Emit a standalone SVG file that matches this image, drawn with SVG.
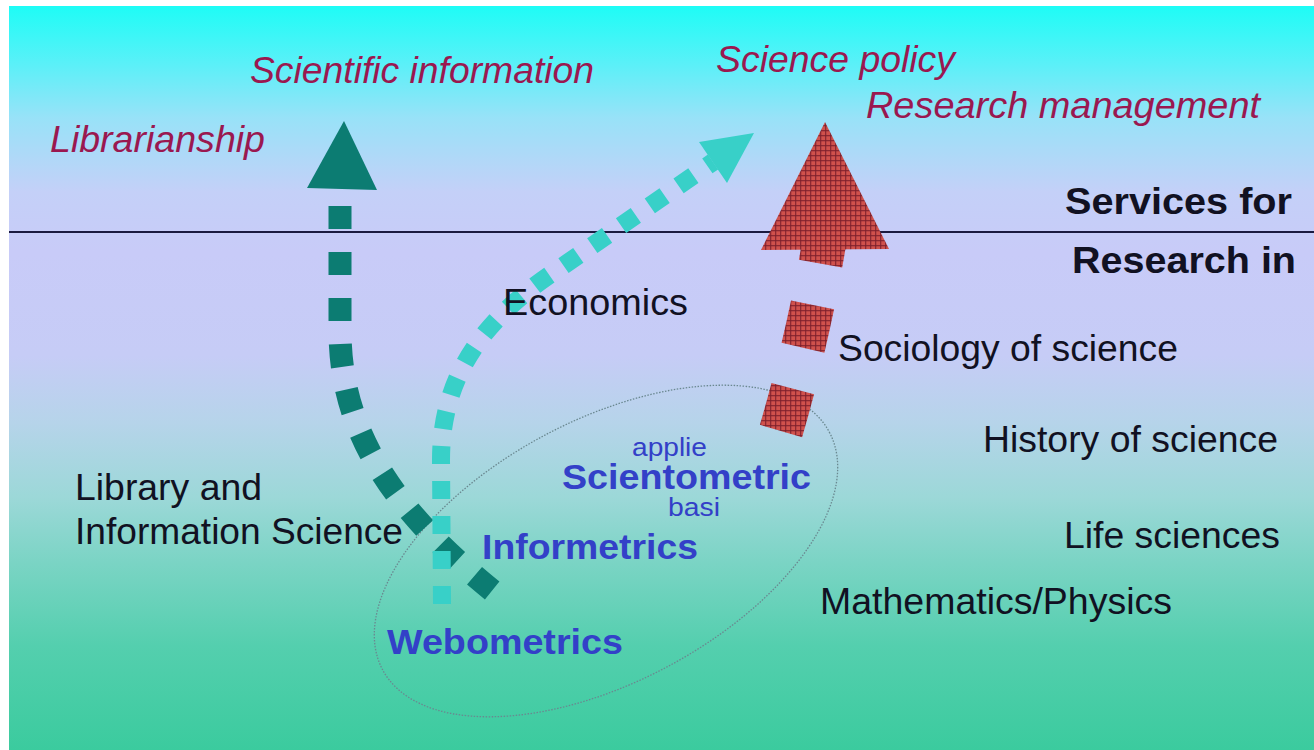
<svg xmlns="http://www.w3.org/2000/svg" width="1314" height="750" viewBox="0 0 1314 750">
<defs>
<linearGradient id="bg" x1="0" y1="6" x2="0" y2="750" gradientUnits="userSpaceOnUse">
<stop offset="0" stop-color="#1efcf6"/>
<stop offset="0.08" stop-color="#5cf0f8"/>
<stop offset="0.15" stop-color="#98e2f8"/>
<stop offset="0.25" stop-color="#c4d0f8"/>
<stop offset="0.33" stop-color="#c8cbf8"/>
<stop offset="0.47" stop-color="#c6ccf6"/>
<stop offset="0.56" stop-color="#b6d4ea"/>
<stop offset="0.66" stop-color="#9cd8d8"/>
<stop offset="0.75" stop-color="#7ad4c4"/>
<stop offset="0.86" stop-color="#54cfae"/>
<stop offset="1" stop-color="#3bcb9e"/>
</linearGradient>
<pattern id="plaid" width="5" height="5" patternUnits="userSpaceOnUse">
<rect width="5" height="5" fill="#d0514c"/>
<rect width="1.3" height="5" fill="#7c1f2c" opacity="0.8"/>
<rect width="5" height="1.3" fill="#7c1f2c" opacity="0.8"/>
</pattern>
<style>
.t{font-family:"Liberation Sans",Arial,sans-serif;font-size:36px;fill:#111122}
.it{font-style:italic;fill:#9a1850}
.b{font-weight:bold}
.bl{font-family:"Liberation Sans",Arial,sans-serif;fill:#3340c8}
.dark{fill:none;stroke:#0c7c72;stroke-width:23;stroke-dasharray:23 23}
.cyan{fill:none;stroke:#38d0c8;stroke-width:18;stroke-dasharray:18 17}
</style>
</defs>
<rect x="0" y="0" width="1314" height="750" fill="#ffffff"/>
<rect x="9" y="6" width="1305" height="744" fill="url(#bg)"/>
<line x1="9" y1="232" x2="1314" y2="232" stroke="#1a1a40" stroke-width="2"/>

<g id="ellipse-metrics">
<ellipse cx="606" cy="551" rx="253" ry="131" transform="rotate(-28 606 551)" fill="none" stroke="#6a8890" stroke-width="1.3" stroke-dasharray="1.5 1.5"/>
</g>

<g id="connectors">
<path class="dark" d="M340,206 L340,330 C340,420 380,500 494,592"/>
<polygon points="344,121 307,188 377,190" fill="#0c7c72"/>
<path class="cyan" d="M442,604 L441,460 C441,380 480,320 560,268 L713,162"/>
<polygon points="754,133 699,142 727,183" fill="#38d0c8"/>
<path d="M781,431 Q814,318 830,205" fill="none" stroke="url(#plaid)" stroke-width="44" stroke-dasharray="44 42"/>
<polygon points="825,122 761,250 889,249" fill="url(#plaid)"/>
</g>

<g id="top-labels">
<text class="t it" x="250" y="83" textLength="344" lengthAdjust="spacingAndGlyphs">Scientific information</text>
<text class="t it" x="50" y="152" textLength="215" lengthAdjust="spacingAndGlyphs">Librarianship</text>
<text class="t it" x="716" y="72" textLength="239" lengthAdjust="spacingAndGlyphs">Science policy</text>
<text class="t it" x="866" y="118" textLength="394" lengthAdjust="spacingAndGlyphs">Research management</text>
</g>
<g id="side-labels">
<text class="t b" x="1065" y="214" textLength="227" lengthAdjust="spacingAndGlyphs">Services for</text>
<text class="t b" x="1072" y="273" textLength="224" lengthAdjust="spacingAndGlyphs">Research in</text>
</g>
<g id="fields">
<text class="t" x="503" y="315" textLength="185" lengthAdjust="spacingAndGlyphs">Economics</text>
<text class="t" x="838" y="361" textLength="340" lengthAdjust="spacingAndGlyphs">Sociology of science</text>
<text class="t" x="983" y="452" textLength="295" lengthAdjust="spacingAndGlyphs">History of science</text>
<text class="t" x="1064" y="548" textLength="216" lengthAdjust="spacingAndGlyphs">Life sciences</text>
<text class="t" x="820" y="614" textLength="352" lengthAdjust="spacingAndGlyphs">Mathematics/Physics</text>
<text class="t" x="75" y="500" textLength="187" lengthAdjust="spacingAndGlyphs">Library and</text>
<text class="t" x="75" y="544" textLength="328" lengthAdjust="spacingAndGlyphs">Information Science</text>
</g>
<g id="metrics">
<text class="bl" x="632" y="456" font-size="26" textLength="75" lengthAdjust="spacingAndGlyphs">applie</text>
<text class="bl b" x="562" y="489" font-size="35" textLength="249" lengthAdjust="spacingAndGlyphs">Scientometric</text>
<text class="bl" x="668" y="516" font-size="26" textLength="52" lengthAdjust="spacingAndGlyphs">basi</text>
<text class="bl b" x="482" y="559" font-size="35" textLength="216" lengthAdjust="spacingAndGlyphs">Informetrics</text>
<text class="bl b" x="387" y="654" font-size="35" textLength="236" lengthAdjust="spacingAndGlyphs">Webometrics</text>
</g>
</svg>
